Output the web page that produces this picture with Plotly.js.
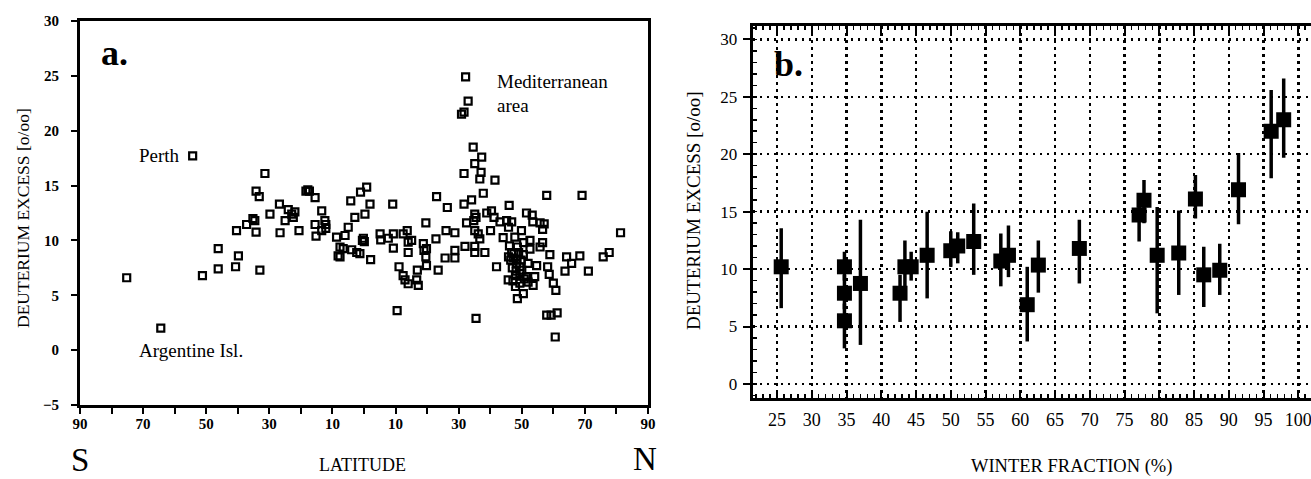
<!DOCTYPE html>
<html>
<head>
<meta charset="utf-8">
<script src="https://cdn.plot.ly/plotly-3.0.1.min.js"></script>
<style>html,body{margin:0;padding:0;background:#fff;}#chart{width:1311px;height:479px;}</style>
</head>
<body>
<div id="chart"></div>
<script>
// ---- Panel a: deuterium excess vs latitude (S negative, N positive) ----
const latitude = [
  -75.2,-64.4,-54.3,-51.2,-46.2,-46.2,-40.7,-40.4,-39.8,-37.2,-35.2,-34.6,-34.2,-33.2,-34.2,-33.0,-31.4,-29.8,
  -26.8,-26.6,-25.0,-24.0,-22.9,-21.9,-22.4,-20.6,-18.4,-17.8,-17.3,-15.5,-15.5,-15.2,-13.4,-13.4,-12.4,-12.1,
  -12.1,-8.7,-8.2,-7.6,-7.6,-6.6,-6.0,-5.0,-4.2,-3.9,-2.9,-2.3,-1.3,-1.1,0.3,0.85,-0.2,0.1,-0.5,1.9,2.1,
  5.1,5.3,7.7,9.1,9.3,9.3,10.5,11.1,12.4,12.4,13.0,13.7,14.0,14.0,14.0,15.1,16.7,17.2,16.9,18.8,19.0,19.6,
  19.8,19.6,19.8,22.8,23.0,23.5,25.7,26.0,26.4,28.8,28.8,28.8,30.9,31.7,31.7,31.7,32.0,32.2,32.5,33.0,34.1,
  34.6,34.8,35.1,35.1,35.1,35.1,35.1,35.5,35.5,36.2,36.7,37.1,37.3,36.7,37.8,38.3,38.9,40.1,40.4,41.5,41.2,
  42.0,43.1,44.1,45.2,46.0,45.8,45.8,45.7,46.1,46.8,47.3,47.8,48.3,48.6,48.6,49.4,49.4,49.4,49.9,50.5,50.5,
  50.6,51.5,51.5,52.0,52.0,52.6,52.6,53.3,53.5,53.6,54.1,54.7,55.8,55.8,56.6,56.6,57.1,57.9,57.9,58.2,58.7,
  58.9,59.3,60.0,60.6,60.8,61.2,63.7,64.2,65.8,68.4,69.1,71.1,75.8,77.7,81.3,
  46.5,47.0,47.5,48.0,48.5,49.0,50.0,50.8,47.2,48.0,46.8,49.8,48.2
];
const excessA = [
  6.6,2.0,17.7,6.8,9.25,7.4,7.6,10.9,8.6,11.45,12.0,11.8,14.5,14.0,10.75,7.3,16.1,12.4,
  13.3,10.7,11.8,12.8,12.4,12.6,12.1,10.9,14.5,14.6,14.5,13.9,11.45,10.4,12.7,10.9,11.8,11.45,
  11.1,10.3,8.6,9.4,8.5,9.25,10.45,11.2,13.6,9.15,12.1,8.9,8.8,14.4,12.4,14.85,10.2,9.9,10.0,13.3,8.25,
  10.6,10.05,10.2,13.3,10.6,9.3,3.6,7.6,10.6,6.8,6.4,10.9,9.85,8.9,6.05,10.0,6.4,5.9,7.3,9.7,9.1,11.6,
  9.25,8.5,7.7,10.15,14.0,7.3,8.4,10.9,13.0,10.7,9.1,8.4,21.5,21.7,16.1,13.3,9.45,24.9,11.6,22.7,13.7,
  18.5,11.8,17.0,12.4,10.9,9.45,8.9,2.9,12.1,10.6,15.6,16.2,17.6,10.15,14.3,8.9,12.5,10.9,12.7,15.5,12.1,
  7.6,11.7,10.25,11.8,13.2,11.2,8.5,6.4,9.5,11.7,8.4,10.3,7.9,4.7,9.4,7.6,7.0,6.1,10.9,5.15,8.7,
  9.8,6.7,12.5,7.9,6.2,10.0,9.2,12.3,11.7,5.9,6.7,7.7,9.4,11.6,9.8,11.0,11.5,14.1,3.2,7.6,6.9,
  8.7,3.2,6.1,1.2,5.45,3.4,7.2,8.5,7.9,8.6,14.1,7.2,8.5,8.9,10.7,
  8.2,7.5,8.8,6.8,8.3,8.9,7.3,6.5,6.3,5.8,8.9,8.2,7.2
];
const latTickVals = [-90,-80,-70,-60,-50,-40,-30,-20,-10,0,10,20,30,40,50,60,70,80,90];
const latTickText = ['90','','70','','50','','30','','10','','10','','30','','50','','70','','90'];

// ---- Panel b: deuterium excess vs winter fraction, with error bars ----
const winterFrac = [25.6,34.7,34.7,34.7,37.0,42.7,43.4,44.3,46.6,50.0,51.0,53.3,57.2,58.3,61.0,62.6,68.5,77.1,77.8,79.7,82.8,85.2,86.4,88.7,91.4,96.1,97.9];
const excessB   = [10.2,10.2,7.9,5.5,8.75,7.9,10.2,10.2,11.2,11.6,12.0,12.4,10.7,11.2,6.9,10.35,11.8,14.7,16.0,11.2,11.4,16.1,9.5,9.9,16.9,22.0,23.0];
const errTop    = [13.55,11.5,9.5,7.0,14.3,9.5,12.5,11.5,15.0,13.3,13.2,15.7,13.1,13.8,10.2,12.5,14.3,16.5,17.75,15.4,15.1,18.2,11.95,12.2,20.1,25.6,26.6];
const errBottom = [6.6,9.0,6.5,3.1,3.4,5.4,8.5,9.0,7.45,10.2,10.5,9.5,8.5,9.3,3.7,7.95,8.75,12.4,14.0,6.15,7.75,14.4,6.7,7.75,13.9,17.9,19.7];

const FONT = 'Liberation Serif, Times New Roman, serif';
const BLACK = '#000';
const W = 1311, H = 479;
const px = v => v / W, py = v => 1 - v / H;
const f = (size, weight) => ({family: FONT, size: size, color: BLACK, weight: weight || 'normal'});

const traceA = {
  type: 'scatter', mode: 'markers', x: latitude, y: excessA, xaxis: 'x', yaxis: 'y',
  marker: {symbol: 'square-open', size: 7, color: BLACK, line: {width: 2.2, color: BLACK}},
  showlegend: false
};
const traceB = {
  type: 'scatter', mode: 'markers', x: winterFrac, y: excessB, xaxis: 'x2', yaxis: 'y2',
  marker: {symbol: 'square', size: 15, color: BLACK},
  error_y: {type: 'data', symmetric: false,
            array: excessB.map((v, i) => errTop[i] - v),
            arrayminus: excessB.map((v, i) => v - errBottom[i]),
            thickness: 3.5, width: 0, color: BLACK},
  showlegend: false
};

const layout = {
  width: W, height: H,
  margin: {l: 0, r: 0, t: 0, b: 0},
  paper_bgcolor: '#fff', plot_bgcolor: 'rgba(0,0,0,0)',
  font: {family: FONT, color: BLACK},
  xaxis: {
    domain: [px(80), px(648)], range: [-90, 90], anchor: 'y',
    tickmode: 'array', tickvals: latTickVals, ticktext: latTickText,
    ticks: 'outside', ticklen: 6, tickwidth: 2, tickcolor: BLACK,
    showline: true, linewidth: 3, linecolor: BLACK, mirror: true,
    showgrid: false, zeroline: false,
    tickfont: f(15, 'bold'), ticklabelstandoff: -3, ticklabeloverflow: 'allow'
  },
  yaxis: {
    domain: [py(405), py(21)], range: [-5, 30], anchor: 'x',
    dtick: 5, tick0: 0, ticks: 'outside', ticklen: 6, tickwidth: 2, tickcolor: BLACK,
    showline: true, linewidth: 3, linecolor: BLACK, mirror: true,
    showgrid: false, zeroline: false,
    tickfont: f(15, 'bold'), ticklabelstandoff: 9
  },
  xaxis2: {
    domain: [px(752.7), 1], range: [21.5, 101.83], anchor: 'y2',
    dtick: 5, tick0: 25, ticks: 'inside', ticklen: 7, tickwidth: 2, tickcolor: BLACK,
    minor: {ticks: 'inside', dtick: 1, ticklen: 4, tickwidth: 1.5, tickcolor: BLACK, showgrid: false},
    showline: true, linewidth: 3, linecolor: BLACK, mirror: 'allticks',
    showgrid: true, gridcolor: BLACK, gridwidth: 2.5, griddash: '2.5px,4.5px', zeroline: false,
    tickfont: f(18), ticklabelstandoff: 3, ticklabeloverflow: 'allow'
  },
  yaxis2: {
    domain: [py(398), py(26)], range: [-1.22, 31.16], anchor: 'x2',
    dtick: 5, tick0: 0, ticks: 'outside', ticklen: 7, tickwidth: 2, tickcolor: BLACK,
    minor: {ticks: 'inside', dtick: 1, ticklen: 4, tickwidth: 1.5, tickcolor: BLACK, showgrid: false},
    showline: true, linewidth: 3, linecolor: BLACK, mirror: false,
    showgrid: true, gridcolor: BLACK, gridwidth: 2.5, griddash: '2.5px,4.5px', zeroline: false,
    tickfont: f(17), ticklabelstandoff: 2
  },
  annotations: [
    // panel a texts
    {xref: 'x', yref: 'y', x: -84, y: 27.1, text: '<b>a.</b>', showarrow: false, xanchor: 'left', yanchor: 'middle', font: f(36)},
    {xref: 'x', yref: 'y', x: -57.8, y: 17.7, text: 'Perth', showarrow: false, xanchor: 'right', yanchor: 'middle', font: f(19)},
    {xref: 'x', yref: 'y', x: -72, y: 0, text: 'Argentine Isl.', showarrow: false, xanchor: 'left', yanchor: 'middle', font: f(19)},
    {xref: 'x', yref: 'y', x: 41.5, y: 24.5, text: 'Mediterranean', showarrow: false, xanchor: 'left', yanchor: 'middle', font: f(19)},
    {xref: 'x', yref: 'y', x: 41.5, y: 22.3, text: 'area', showarrow: false, xanchor: 'left', yanchor: 'middle', font: f(19)},
    {xref: 'paper', yref: 'paper', x: px(80), y: py(460), text: 'S', showarrow: false, xanchor: 'center', yanchor: 'middle', font: f(33)},
    {xref: 'paper', yref: 'paper', x: px(645), y: py(459), text: 'N', showarrow: false, xanchor: 'center', yanchor: 'middle', font: f(33)},
    {xref: 'paper', yref: 'paper', x: px(362), y: py(465), text: 'LATITUDE', showarrow: false, xanchor: 'center', yanchor: 'middle', font: f(18)},
    {xref: 'paper', yref: 'paper', x: px(23), y: py(218), text: 'DEUTERIUM EXCESS [o/oo]', textangle: -90, showarrow: false, xanchor: 'center', yanchor: 'middle', font: f(17.5)},
    // panel b texts
    {xref: 'x2', yref: 'y2', x: 24.3, y: 27.85, text: '<b>b.</b>', showarrow: false, xanchor: 'left', yanchor: 'middle', font: f(36)},
    {xref: 'paper', yref: 'paper', x: px(1071), y: py(466), text: 'WINTER FRACTION (%)', showarrow: false, xanchor: 'center', yanchor: 'middle', font: f(18.5)},
    {xref: 'paper', yref: 'paper', x: px(693), y: py(211), text: 'DEUTERIUM EXCESS [o/oo]', textangle: -90, showarrow: false, xanchor: 'center', yanchor: 'middle', font: f(19)}
  ]
};

Plotly.newPlot('chart', [traceA, traceB], layout, {displayModeBar: false, staticPlot: true});
</script>
</body>
</html>
